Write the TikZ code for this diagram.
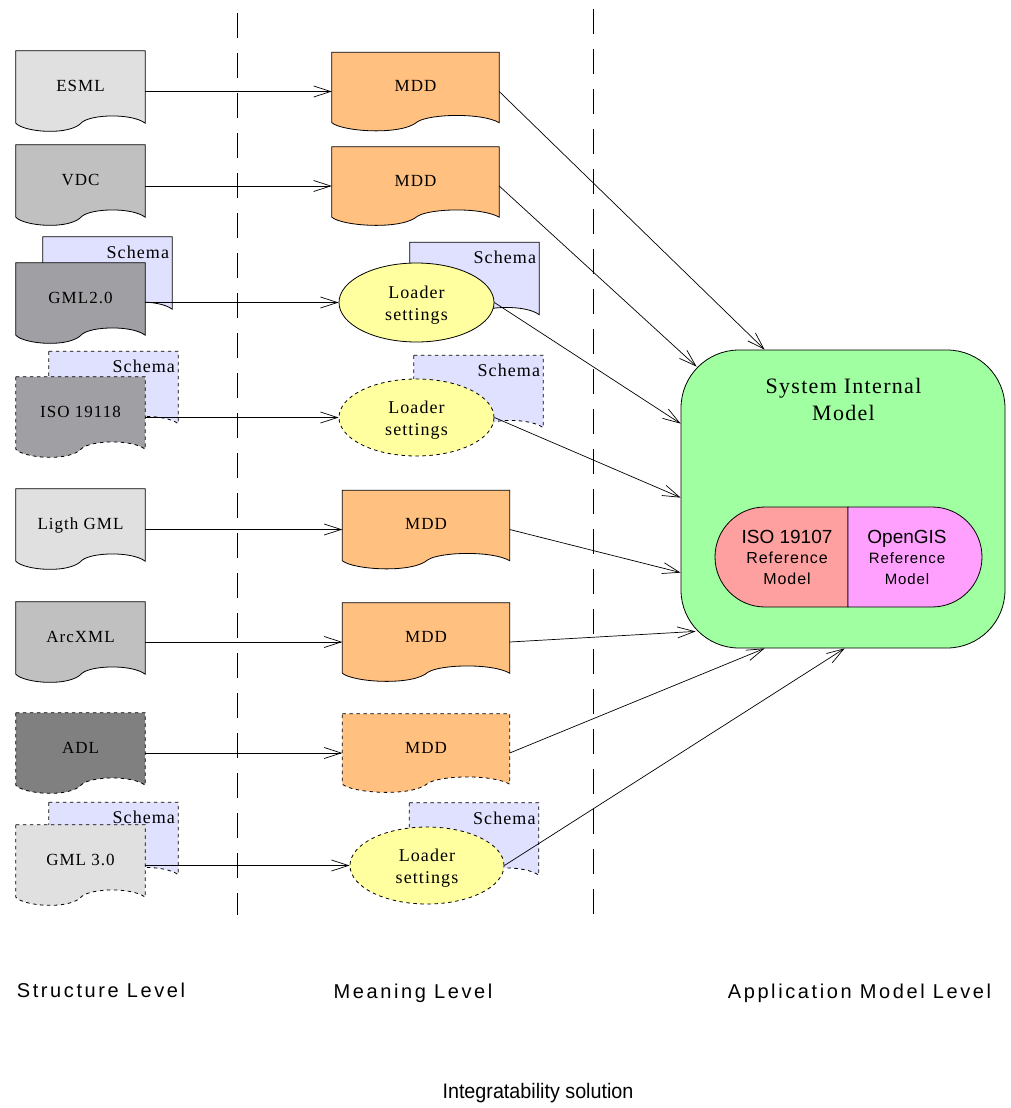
\documentclass[tikz,border=0pt]{standalone}
\usepackage{fontspec}
\setmainfont{Liberation Serif}
\newfontfamily\docfont[LetterSpace=6]{Liberation Serif}
\newfontfamily\lvlfont[LetterSpace=13]{Liberation Sans}
\newfontfamily\pillfont[LetterSpace=6]{Liberation Sans}
\newfontfamily\plainsans{Liberation Sans}
\newfontfamily\capfont[FakeStretch=0.94]{Liberation Sans}
\usetikzlibrary{arrows.meta,calc,shapes.geometric,shapes.misc}
\pgfdeclarelayer{bg}
\pgfsetlayers{bg,main}

\definecolor{gA}{HTML}{E0E0E0}
\definecolor{gB}{HTML}{C0C0C0}
\definecolor{gC}{HTML}{A0A0A4}
\definecolor{gD}{HTML}{808080}
\definecolor{mddc}{HTML}{FFC080}
\definecolor{schc}{HTML}{E0E0FF}
\definecolor{ldrc}{HTML}{FFFFA0}
\definecolor{simc}{HTML}{A0FFA0}
\definecolor{isoc}{HTML}{FFA0A0}
\definecolor{ogc}{HTML}{FFA0FF}

\newcommand\docwave[2]{%
 \path[#2] (#1.north west) -- (#1.north east) -- ($(#1.south east)+(0,-8)$)
 .. controls ($(#1.south west)!0.899!(#1.south east)+(0,-18)$) and ($(#1.south west)!0.589!(#1.south east)+(0,-17)$) .. ($(#1.south west)!0.512!(#1.south east)+(0,-9)$)
 .. controls ($(#1.south west)!0.419!(#1.south east)+(0,5)$) and ($(#1.south west)!0.062!(#1.south east)+(0,1)$) .. ($(#1.south west)+(0,-8)$) -- cycle;}

\begin{document}
\begin{tikzpicture}[x=1pt,y=-1pt,
  docbox/.style={rectangle, inner sep=0pt, minimum height=80pt, minimum width=129pt,
     font=\docfont\fontsize{17}{20}\selectfont, text height=6pt, text depth=6pt},
  mddbox/.style={docbox, minimum width=167pt, minimum height=78pt},
  schbox/.style={docbox, label={[schlbl]north east:Schema}},
  schlbl/.style={anchor=east, xshift=-3pt, yshift=-15.5pt, inner sep=0pt,
     font=\docfont\fontsize{18}{20}\selectfont},
  ldr/.style={ellipse, inner sep=0pt, fill=ldrc, draw=black, line width=0.8pt, align=center,
     font=\docfont\fontsize{18}{22}\selectfont},
  solid fill/.style={draw=black, line width=0.8pt, fill=#1},
  dash fill/.style={draw=black, line width=0.8pt, fill=#1, dash pattern=on 3.5pt off 3.5pt},
  ldrdash/.style={dash pattern=on 3.5pt off 3.5pt},
  arr/.style={draw=black, line width=0.7pt, -{Straight Barb[length=17pt,width=11pt]}},
  sep/.style={draw=black, line width=0.8pt, dash pattern=on 25pt off 15pt},
  lvl/.style={font=\lvlfont\fontsize{20}{24}\selectfont, inner sep=0pt},
  pilltxt/.style={anchor=center, align=center, inner sep=0pt, font=\pillfont\fontsize{16}{20.5}\selectfont},
]
\useasboundingbox (0,0) rectangle (1011,1108);

% separators
\draw[sep] (237,13) -- (237,915);
\draw[sep] (593,9) -- (593,915);

% left column
\node[schbox] (schA) at (107.5,277) {};
\node[schbox] (schB) at (113.5,391.5) {};
\node[schbox] (schC) at (113.5,842.5) {};
\node[docbox] (esml) at (80.5,91) {ESML};
\node[docbox] (vdc) at (80.5,185) {VDC};
\node[docbox] (gml2) at (80.5,303) {GML2.0};
\node[docbox] (iso) at (80.5,417) {ISO 19118};
\node[docbox] (lgml) at (80.5,529) {Ligth GML};
\node[docbox] (arc) at (80.5,642) {ArcXML};
\node[docbox] (adl) at (80.5,753) {ADL};
\node[docbox] (gml3) at (80.5,865) {GML 3.0};

% middle column
\node[schbox] (sch1) at (474.5,282.5) {};
\node[schbox] (sch2) at (478.5,395.5) {};
\node[schbox] (sch3) at (474,843) {};
\node[mddbox] (mdd1) at (415.5,91.5) {MDD};
\node[mddbox] (mdd2) at (415.5,186) {MDD};
\node[mddbox] (mdd3) at (426,529.5) {MDD};
\node[mddbox] (mdd4) at (426,642) {MDD};
\node[mddbox] (mdd5) at (426,753) {MDD};
\node[ldr, minimum width=155pt, minimum height=79pt] (ldr1) at (416.5,302.5) {\rule{0pt}{18pt}Loader\\settings};
\node[ldr, ldrdash, minimum width=155pt, minimum height=77pt] (ldr2) at (416.5,417.5) {\rule{0pt}{18pt}Loader\\settings};
\node[ldr, ldrdash, minimum width=154pt, minimum height=77pt] (ldr3) at (427,865.5) {\rule{0pt}{18pt}Loader\\settings};

\begin{pgfonlayer}{bg}
\path[fill=white] (0,0) rectangle (1011,1108);
\docwave{schA}{solid fill=schc}
\docwave{gml2}{solid fill=gC}
\docwave{schB}{dash fill=schc}
\docwave{iso}{dash fill=gC}
\docwave{schC}{dash fill=schc}
\docwave{gml3}{dash fill=gA}
\docwave{esml}{solid fill=gA}
\docwave{vdc}{solid fill=gB}
\docwave{lgml}{solid fill=gA}
\docwave{arc}{solid fill=gB}
\docwave{adl}{dash fill=gD}
\docwave{sch1}{solid fill=schc}
\docwave{sch2}{dash fill=schc}
\docwave{sch3}{dash fill=schc}
\docwave{mdd1}{solid fill=mddc}
\docwave{mdd2}{solid fill=mddc}
\docwave{mdd3}{solid fill=mddc}
\docwave{mdd4}{solid fill=mddc}
\docwave{mdd5}{dash fill=mddc}
\end{pgfonlayer}

% system internal model
\node[rectangle, rounded corners=58pt, minimum width=324pt, minimum height=298pt,
      fill=simc, draw=black, line width=0.8pt] (sim) at (843,499) {};
\node[align=center, inner sep=0pt, font=\docfont\fontsize{22}{27}\selectfont] (simt) at (843.5,399) {System Internal\\Model};
\node[rounded rectangle, rounded rectangle right arc=none, minimum width=133pt, minimum height=100pt,
      inner sep=0pt, fill=isoc, draw=black, line width=0.8pt,
      label={[pilltxt, xshift=5.5pt]center:{{\plainsans\fontsize{19}{20.5}\selectfont ISO 19107}\\Reference\\Model}}] (isom) at (781.5,557) {};
\node[rounded rectangle, rounded rectangle left arc=none, minimum width=134pt, minimum height=100pt,
      inner sep=0pt, fill=ogc, draw=black, line width=0.8pt,
      label={[pilltxt, xshift=-8pt, font=\pillfont\fontsize{15}{20.5}\selectfont]center:{{\plainsans\fontsize{19}{20.5}\selectfont OpenGIS}\\Reference\\Model}}] (ogis) at (915,557) {};

% connectors left -> middle
\draw[arr] (esml.east |- mdd1.west) -- (mdd1.west);
\draw[arr] (vdc.east |- mdd2.west) -- (mdd2.west);
\draw[arr] (gml2.east |- ldr1.west) -- (ldr1.west);
\draw[arr] (iso.east |- ldr2.west) -- (ldr2.west);
\draw[arr] (lgml.east |- mdd3.west) -- (mdd3.west);
\draw[arr] (arc.east |- mdd4.west) -- (mdd4.west);
\draw[arr] (adl.east |- mdd5.west) -- (mdd5.west);
\draw[arr] (gml3.east |- ldr3.west) -- (ldr3.west);

% connectors middle -> system internal model
\draw[arr] (mdd1.east) -- ($(sim.north west)+(84,0)$);
\draw[arr] (mdd2.east) -- ($(sim.north west)+(16,17)$);
\draw[arr] (ldr1.east) -- ($(sim.north west)+(0,74)$);
\draw[arr] (ldr2.east) -- ($(sim.north west)+(0,148)$);
\draw[arr] (mdd3.east) -- ($(sim.north west)+(0,223)$);
\draw[arr] (mdd4.east) -- ($(sim.south west)+(15,-17)$);
\draw[arr] (mdd5.east) -- ($(sim.south west)+(84,0)$);
\draw[arr] (ldr3.east) -- ($(sim.south west)+(164,0)$);

% level labels
\node[lvl] (lv1) at (101,990) {Structure Level};
\node[lvl] (lv2) at (413,993) {Meaning Level};
\node[lvl] (lv3) at (859.5,993) {Application Model Level};
\node[inner sep=0pt, font=\capfont\fontsize{21}{24}\selectfont] (capt) at (538,1093) {Integratability solution};
\end{tikzpicture}
\end{document}
